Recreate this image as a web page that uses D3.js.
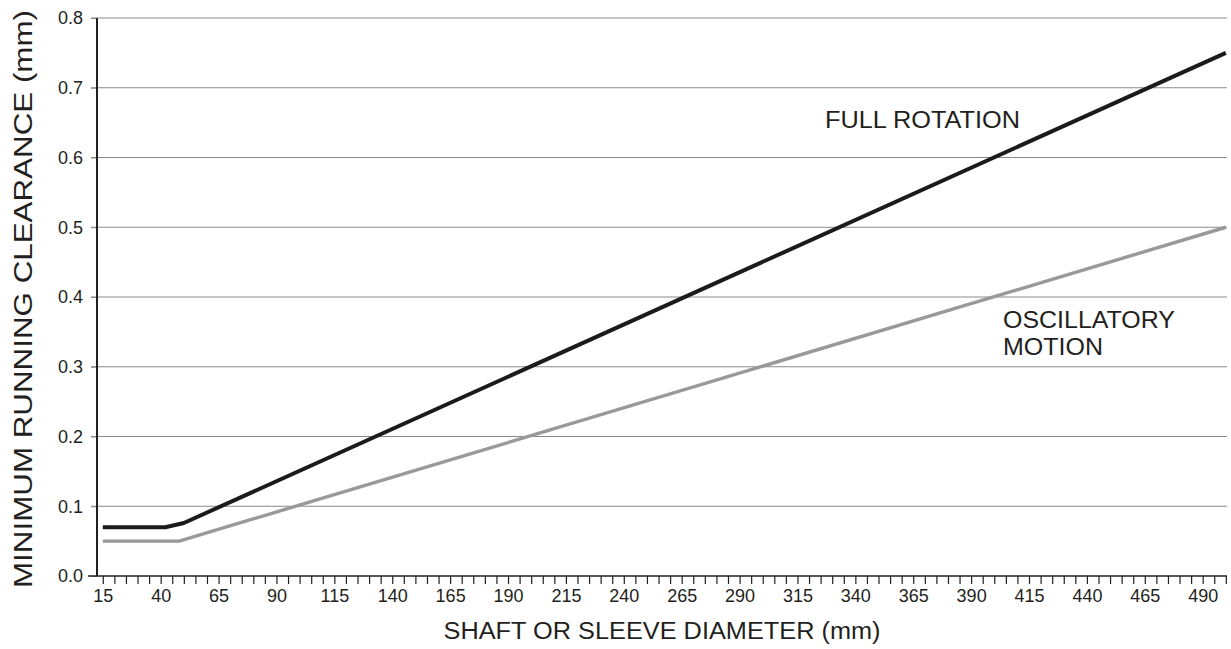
<!DOCTYPE html>
<html>
<head>
<meta charset="utf-8">
<script src="https://cdn.jsdelivr.net/npm/d3@7"></script>
<style>
  body { margin: 0; background: #fff; }
  svg text { font-family: "Liberation Sans", Arial, Helvetica, sans-serif; fill: #231f20; }
</style>
</head>
<body>
<svg id="chart" width="1231" height="649"></svg>
<script>
// values
const xTicksMajor = [15, 40, 65, 90, 115, 140, 165, 190, 215, 240, 265, 290, 315, 340, 365, 390, 415, 440, 465, 490];
const xTicksMinor = d3.range(15, 501, 5);
const yTicks = [0, 0.1, 0.2, 0.3, 0.4, 0.5, 0.6, 0.7, 0.8];

const fullRotationD = [15, 42, 50, 500];
const fullRotationC = [0.07, 0.07, 0.076, 0.75];
const oscillatoryD = [15, 48, 500];
const oscillatoryC = [0.05, 0.05, 0.5];

const svg = d3.select('#chart');
const plotLeft = 97, plotRight = 1227, plotTop = 18, plotBottom = 576;

const x = d3.scaleLinear().domain([12.5, 500.5]).range([plotLeft, plotRight]);
const y = d3.scaleLinear().domain([0, 0.8]).range([plotBottom, plotTop]);

// horizontal grid + y ticks
svg.append('g')
  .selectAll('line')
  .data(yTicks.slice(1))
  .join('line')
  .attr('x1', plotLeft - 6).attr('x2', plotRight)
  .attr('y1', (d) => y(d)).attr('y2', (d) => y(d))
  .attr('stroke', '#8a8a8a').attr('stroke-width', 1);

const yAxis = svg.append('g')
  .attr('transform', `translate(${plotLeft},0)`)
  .call(d3.axisLeft(y).tickValues(yTicks).tickFormat(d3.format('.1f')).tickSize(6).tickPadding(8));
yAxis.select('.domain').remove();
yAxis.selectAll('line').attr('stroke', '#8a8a8a');
yAxis.selectAll('text').attr('font-size', 18).style('fill', '#231f20');
svg.append('line')
  .attr('x1', plotLeft).attr('x2', plotLeft)
  .attr('y1', y(0.8)).attr('y2', plotBottom)
  .attr('stroke', '#231f20').attr('stroke-width', 2);

// x axis: minor ticks every 5, labels every 25
const xAxis = svg.append('g')
  .attr('transform', `translate(0,${plotBottom})`)
  .call(d3.axisBottom(x).tickValues(xTicksMinor).tickSize(8)
    .tickFormat((d) => (xTicksMajor.includes(d) ? d : '')).tickPadding(5));
xAxis.select('.domain').remove();
xAxis.selectAll('line').attr('stroke', '#231f20').attr('stroke-width', 1.2);
xAxis.selectAll('text').attr('font-size', 18).style('fill', '#231f20');
svg.append('line')
  .attr('x1', plotLeft - 9).attr('x2', plotRight)
  .attr('y1', plotBottom).attr('y2', plotBottom)
  .attr('stroke', '#231f20').attr('stroke-width', 1.5);

// curves
const line = d3.line().x((d) => x(d[0])).y((d) => y(d[1]));
svg.append('path')
  .datum(d3.zip(oscillatoryD, oscillatoryC))
  .attr('d', line)
  .attr('fill', 'none').attr('stroke', '#999999').attr('stroke-width', 3.4)
  .attr('stroke-linejoin', 'round');
svg.append('path')
  .datum(d3.zip(fullRotationD, fullRotationC))
  .attr('d', line)
  .attr('fill', 'none').attr('stroke', '#1c1a1b').attr('stroke-width', 4)
  .attr('stroke-linejoin', 'round');

// labels (the original face is a little wider than Liberation Sans, so stretch to its width)
function label(txt, px, py, size, len, anchor = 'start') {
  return svg.append('text')
    .attr('x', px).attr('y', py)
    .attr('font-size', size)
    .attr('text-anchor', anchor)
    .attr('textLength', len)
    .attr('lengthAdjust', 'spacingAndGlyphs')
    .text(txt);
}
label('FULL ROTATION', 825, 128, 23, 195);
label('OSCILLATORY', 1003, 328, 24, 172);
label('MOTION', 1003, 355, 24, 100);
label('SHAFT OR SLEEVE DIAMETER (mm)', 662, 639, 23, 437, 'middle');
label('MINIMUM RUNNING CLEARANCE (mm)', 0, 0, 25, 578, 'middle')
  .attr('transform', `translate(32,${(plotTop + plotBottom) / 2 + 2}) rotate(-90)`);
</script>
</body>
</html>
